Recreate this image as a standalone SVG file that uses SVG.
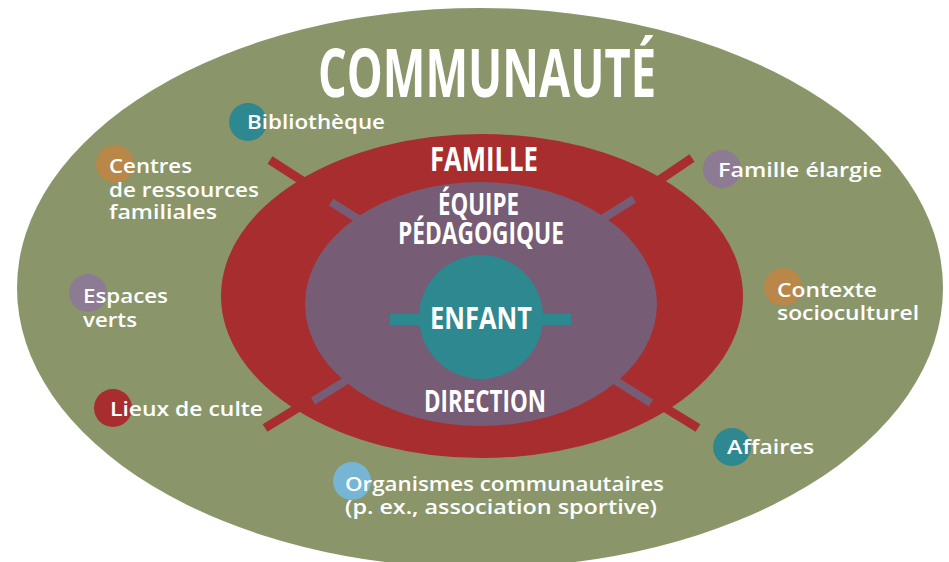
<svg xmlns="http://www.w3.org/2000/svg" width="949" height="562" viewBox="0 0 949 562">
  <style>
    .h { font-family: "Liberation Sans Narrow", "Open Sans", "Liberation Sans", sans-serif; font-weight: 700; fill: #ffffff; }
    .l { font-family: "Open Sans", "Liberation Sans", sans-serif; font-weight: 600; font-size: 20px; fill: #ffffff; }
    .rs { stroke: #a82d2e; stroke-width: 9; fill: none; }
    .ps { stroke: #765c74; stroke-width: 8; fill: none; }
  </style>
  <rect width="949" height="562" fill="#ffffff"/>

  <g id="communaute">
    <ellipse cx="480" cy="288" rx="463" ry="280" fill="#8a966a"/>
    <text class="h" x="318" y="97" font-size="66" textLength="338" lengthAdjust="spacingAndGlyphs">COMMUNAUTÉ</text>
  </g>

  <g id="famille">
    <ellipse cx="482" cy="296" rx="261" ry="162" fill="#a82d2e"/>
  </g>

  <g id="connectors">
    <line class="rs" x1="270" y1="160" x2="332" y2="200"/>
    <line class="rs" x1="692" y1="158" x2="630" y2="200"/>
    <line class="rs" x1="265" y1="428" x2="327" y2="390"/>
    <line class="rs" x1="698" y1="428" x2="636" y2="390"/>
  </g>

  <g id="famille-label">
    <text class="h" x="430" y="171" font-size="34" textLength="108" lengthAdjust="spacingAndGlyphs">FAMILLE</text>
  </g>

  <g id="equipe">
    <ellipse cx="481" cy="304" rx="176" ry="122" fill="#765c74"/>
    <line class="ps" x1="331" y1="202" x2="380" y2="233"/>
    <line class="ps" x1="634" y1="199" x2="585" y2="230"/>
    <line class="ps" x1="313" y1="401" x2="360" y2="372"/>
    <line class="ps" x1="651" y1="403" x2="605" y2="374"/>
    <text class="h" x="438" y="215" font-size="30" textLength="81" lengthAdjust="spacingAndGlyphs">ÉQUIPE</text>
    <text class="h" x="398" y="244" font-size="30" textLength="166" lengthAdjust="spacingAndGlyphs">PÉDAGOGIQUE</text>
    <text class="h" x="424" y="412" font-size="30" textLength="122" lengthAdjust="spacingAndGlyphs">DIRECTION</text>
  </g>

  <g id="enfant">
    <rect x="390" y="314" width="181" height="11" fill="#2e8890"/>
    <circle cx="481" cy="317" r="62" fill="#2e8890"/>
    <text class="h" x="430" y="329" font-size="31" textLength="102" lengthAdjust="spacingAndGlyphs">ENFANT</text>
  </g>

  <g id="bibliotheque">
    <circle cx="248" cy="122" r="19" fill="#2e8890"/>
    <text class="l" x="247" y="129" textLength="138" lengthAdjust="spacingAndGlyphs">Bibliothèque</text>
  </g>

  <g id="centres">
    <circle cx="115" cy="164" r="19" fill="#b98748"/>
    <text class="l" x="109" y="173" textLength="83" lengthAdjust="spacingAndGlyphs">Centres</text>
    <text class="l" x="109" y="197" textLength="150" lengthAdjust="spacingAndGlyphs">de ressources</text>
    <text class="l" x="109" y="219" textLength="108" lengthAdjust="spacingAndGlyphs">familiales</text>
  </g>

  <g id="espaces">
    <circle cx="88" cy="293" r="19" fill="#8d7a93"/>
    <text class="l" x="83" y="303" textLength="85" lengthAdjust="spacingAndGlyphs">Espaces</text>
    <text class="l" x="83" y="327" textLength="54" lengthAdjust="spacingAndGlyphs">verts</text>
  </g>

  <g id="lieux">
    <circle cx="113" cy="408" r="19" fill="#a82d2e"/>
    <text class="l" x="110" y="416" textLength="153" lengthAdjust="spacingAndGlyphs">Lieux de culte</text>
  </g>

  <g id="famille-elargie">
    <circle cx="722" cy="169" r="19" fill="#8d7a93"/>
    <text class="l" x="718" y="177" textLength="164" lengthAdjust="spacingAndGlyphs">Famille élargie</text>
  </g>

  <g id="contexte">
    <circle cx="783" cy="287" r="19" fill="#b98748"/>
    <text class="l" x="777" y="297" textLength="100" lengthAdjust="spacingAndGlyphs">Contexte</text>
    <text class="l" x="777" y="320" textLength="142" lengthAdjust="spacingAndGlyphs">socioculturel</text>
  </g>

  <g id="affaires">
    <circle cx="732" cy="447" r="19" fill="#2e8890"/>
    <text class="l" x="727" y="454" textLength="87" lengthAdjust="spacingAndGlyphs">Affaires</text>
  </g>

  <g id="organismes">
    <circle cx="352" cy="481" r="19" fill="#76b5d4"/>
    <text class="l" x="345" y="491" textLength="319" lengthAdjust="spacingAndGlyphs">Organismes communautaires</text>
    <text class="l" x="345" y="514" textLength="312" lengthAdjust="spacingAndGlyphs">(p. ex., association sportive)</text>
  </g>
</svg>
